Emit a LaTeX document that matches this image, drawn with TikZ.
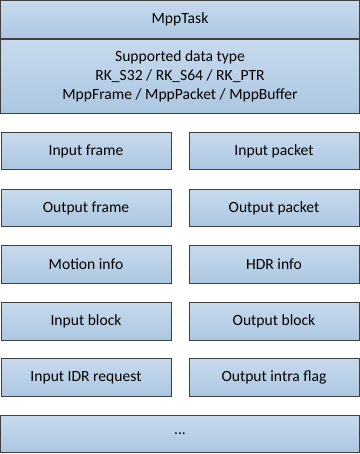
\documentclass[tikz,border=0pt]{standalone}
\usepackage{fontspec}
\setmainfont{Carlito}
\definecolor{azulclaro}{RGB}{199,218,237}
\definecolor{azuloscuro}{RGB}{172,199,225}
\definecolor{borde}{RGB}{64,64,64}

\begin{document}
\begin{tikzpicture}[x=0.75pt, y=-0.75pt, line width=0.75pt,
  caja/.style={draw=borde, top color=azulclaro, bottom color=azuloscuro,
    inner sep=0pt, minimum height=28pt, align=center,
    font=\fontsize{11.7}{14.25}\selectfont},
  ancha/.style={caja, minimum width=269pt},
  media/.style={caja, minimum width=127.5pt}]
  \useasboundingbox (0,0) rectangle (360,454);
  % cabecera
  \node[ancha] (task) at (180,19.5) {MppTask};
  \node[ancha, minimum height=55.5pt] (tipos) at (180,76)
    {Supported data type\\RK\_S32 / RK\_S64 / RK\_PTR\\MppFrame / MppPacket / MppBuffer};
  % columna izquierda
  \node[media] (inframe)  at (86,151)   {Input frame};
  \node[media] (outframe) at (86,208)   {Output frame};
  \node[media] (motion)   at (86,264.5) {Motion info};
  \node[media] (inblock)  at (86,321.5) {Input block};
  \node[media] (idr)      at (86,377.5) {Input IDR request};
  % columna derecha
  \node[media] (inpacket)  at (274,151)   {Input packet};
  \node[media] (outpacket) at (274,208)   {Output packet};
  \node[media] (hdr)       at (274,264.5) {HDR info};
  \node[media] (outblock)  at (274,321.5) {Output block};
  \node[media] (intra)     at (274,377.5) {Output intra flag};
  % resto
  \node[ancha] (resto) at (180,434) {...};
\end{tikzpicture}
\end{document}
